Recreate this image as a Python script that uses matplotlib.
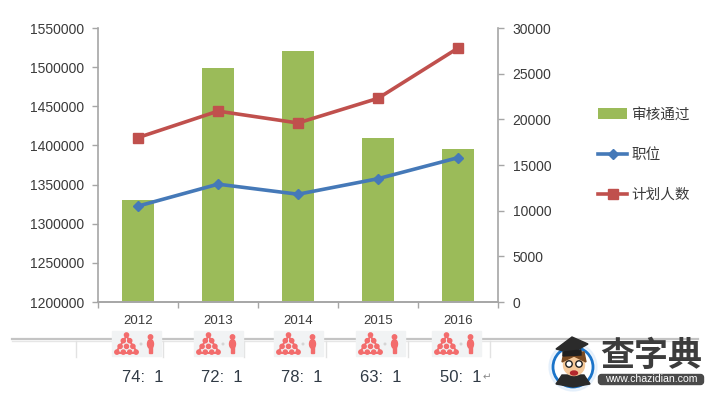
import matplotlib
matplotlib.use("Agg")
import matplotlib.pyplot as plt
from matplotlib.patches import Circle, Ellipse, FancyBboxPatch, Polygon, Rectangle
from matplotlib.ticker import ScalarFormatter

plt.rcParams["font.family"] = ["Liberation Sans", "Noto Sans CJK SC", "DejaVu Sans"]

years = ["2012", "2013", "2014", "2015", "2016"]
passed = [1330000, 1499000, 1521000, 1410000, 1395000]
posts = [10500, 12900, 11800, 13500, 15800]
planned = [18000, 20900, 19600, 22300, 27800]
ratios = ["74:  1", "72:  1", "78:  1", "63:  1", "50:  1"]
left_ticks = [1200000, 1250000, 1300000, 1350000, 1400000, 1450000, 1500000, 1550000]
right_ticks = [0, 5000, 10000, 15000, 20000, 25000, 30000]

TEXT = "#3a3a3a"
AXIS = "#a6a6a6"
GREEN = "#9BBB59"
BLUE = "#4579B8"
RED = "#C0504D"
PINK = "#F36C6C"

W, H = 711, 394
fig = plt.figure(figsize=(W / 100, H / 100), dpi=100, facecolor="white")
ax = fig.add_axes([98 / W, (H - 302) / H, 400 / W, 274 / H])
x = list(range(len(years)))

bars = ax.bar(x, passed, width=0.41, color=GREEN, label="审核通过", zorder=2)
ax.set_xlim(-0.5, 4.5)
ax.set_ylim(1200000, 1550000)
ax.set_yticks(left_ticks)
fmt = ScalarFormatter(useOffset=False)
fmt.set_scientific(False)
ax.yaxis.set_major_formatter(fmt)
ax.set_xticks([i - 0.5 for i in range(6)])
ax.set_xticklabels([])
for yr, i in zip(years, x):
    ax.annotate(yr, (i, 0), xycoords=("data", "axes fraction"), xytext=(0, -13.5),
                textcoords="offset points", ha="center", va="center", fontsize=9.5, color=TEXT)

ax2 = ax.twinx()
ax2.set_ylim(0, 30000)
ax2.set_yticks(right_ticks)
line1, = ax2.plot(x, posts, color=BLUE, lw=2.6, marker="D", ms=5, label="职位")
line2, = ax2.plot(x, planned, color=RED, lw=2.6, marker="s", ms=7, label="计划人数")

for a in (ax, ax2):
    for side, sp in a.spines.items():
        sp.set_color(AXIS)
        sp.set_linewidth(1.2)
    a.spines["top"].set_visible(False)
    a.tick_params(colors=AXIS, labelcolor=TEXT, labelsize=10, length=4, width=1)
ax.spines["right"].set_visible(False)
ax2.spines["left"].set_visible(False)
ax.tick_params(axis="y", pad=5.7)
ax2.tick_params(axis="y", pad=6.5)

fig.legend(handles=[bars, line1, line2], loc="upper left", bbox_to_anchor=(598 / W, 1 - 107.5 / H),
           frameon=False, fontsize=10.5, labelcolor=TEXT, labelspacing=1.8,
           handlelength=2.0, handletextpad=0.3, borderaxespad=0, borderpad=0)

# strip below the chart, in pixel coordinates
ov = fig.add_axes([0, 0, 1, 1], zorder=5)
ov.set_xlim(0, W)
ov.set_ylim(H, 0)
ov.axis("off")
ov.plot([12, 698], [339, 339], color="#c4c4c4", lw=1.6)
ov.plot([12, 698], [341, 341], color="#e6e6e6", lw=1)
for vx in [76, 163, 244, 326, 408, 490]:
    ov.plot([vx, vx], [341, 357], color="#e2e2e2", lw=1)

box_x = [112, 194, 274, 356, 432]
ratio_x = [142.5, 221.5, 302, 381, 460.5]
for bx, rx, label in zip(box_x, ratio_x, ratios):
    ov.add_patch(Rectangle((bx, 331), 49, 25, color="#f1f3f4", zorder=2))
    # pyramid of people
    cx = bx + 14.5
    ov.add_patch(Polygon([[cx, 336], [cx - 11, 353], [cx + 11, 353]], closed=True,
                         fill=False, ec=PINK, lw=1.4, zorder=3))
    for r, n in enumerate([1, 2, 3, 4]):
        for k in range(n):
            ov.add_patch(Circle((cx + (k - (n - 1) / 2) * 6.4, 335 + r * 5.7), 2.1, color=PINK, zorder=3))
    # single person
    px = bx + 38.5
    ov.add_patch(Circle((px, 337), 2.2, color=PINK, zorder=3))
    ov.add_patch(Ellipse((px, 344), 6, 9, color=PINK, zorder=3))
    ov.add_patch(Rectangle((px - 1.8, 346), 3.6, 6.5, color=PINK, zorder=3))
    ov.add_patch(Circle((bx + 29, 344), 0.8, color="#d5d5d5", zorder=3))
    ov.text(rx, 377, label, ha="center", va="center", fontsize=12, color="#303a45")
ov.text(487, 377.5, "↵", ha="center", va="center", fontsize=7.5, color="#8a8a8a",
        family="DejaVu Sans")

# site logo
ov.add_patch(Circle((573, 367), 24, color="#dcebfa", alpha=0.6, zorder=3))
ov.add_patch(Circle((573, 367), 20, fc="white", ec="#1b74c9", lw=2, zorder=4))
ov.add_patch(Polygon([[556, 384], [562, 375], [584, 375], [590, 384], [573, 387]], closed=True,
                     color="#2a2a2a", zorder=5))
ov.add_patch(Circle((574, 365), 10.5, color="#f5c99a", zorder=5))
ov.add_patch(Polygon([[562, 362], [564, 352], [584, 352], [586, 362], [574, 356]], closed=True,
                     color="#7a4a21", zorder=6))
ov.add_patch(Polygon([[556, 349], [572, 337], [588, 344], [572, 353]], closed=True,
                     color="#2b2b2b", zorder=7))
ov.add_patch(Polygon([[563, 352], [581, 350], [581, 355], [563, 356]], closed=True,
                     color="#1f1f1f", zorder=7))
for ex in [569, 579]:
    ov.add_patch(Circle((ex, 364), 3.2, fc="white", ec="#222222", lw=1, zorder=8))
ov.add_patch(Ellipse((574, 373), 7, 4, color="#b3282d", zorder=8))
ov.text(651, 355.5, "查字典", ha="center", va="center", fontsize=24.5, fontweight="bold",
        color="#3c3c3c", family="Noto Sans CJK SC", zorder=8)
ov.add_patch(FancyBboxPatch((600, 376), 102, 7, boxstyle="round,pad=1.5,rounding_size=3",
                            color="#4a4a4a", zorder=8))
ov.text(651, 379.5, "www.chazidian.com", ha="center", va="center", fontsize=7.6,
        color="white", zorder=9)

fig.savefig("out.png", dpi=100)
